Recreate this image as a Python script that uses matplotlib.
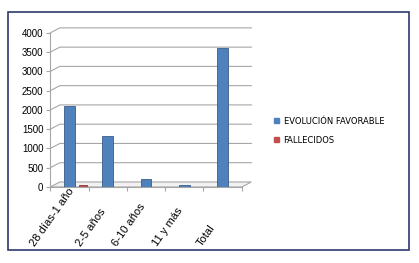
import matplotlib.pyplot as plt
import matplotlib.transforms as mtransforms
import numpy as np
from matplotlib.patches import Patch, Polygon, Rectangle

categorias = ["28 días-1 año", "2-5 años", "6-10 años", "11 y más", "Total"]
favorable = [2100, 1320, 200, 40, 3620]
fallecidos = [40, 0, 0, 0, 0]
yticks = [0, 500, 1000, 1500, 2000, 2500, 3000, 3500, 4000]

azul = "#4f81bd"
rojo = "#c0504d"

fig = plt.figure(figsize=(4.19, 2.63), dpi=100)
ax = fig.add_axes([0.12, 0.289, 0.457, 0.586])

x = np.arange(len(categorias))
xmin, xmax = -0.5, 4.5
dx, dy = 0.25, 130

# rejilla con efecto 3D
for t in yticks[1:]:
    ax.plot([xmin, xmin + dx, xmax + dx], [t, t + dy, t + dy],
            color="#a6a6a6", lw=0.8, clip_on=False, zorder=1)
# suelo
ax.add_patch(Polygon([[xmin, 0], [xmin + dx, dy], [xmax + dx, dy], [xmax, 0]],
                     closed=True, facecolor="#f2f2f2", edgecolor="#a6a6a6",
                     lw=0.8, clip_on=False, zorder=1))

ax.bar(x, favorable, width=0.28, color=azul, edgecolor="#385d8a", lw=0.6, zorder=3)
ax.bar(x + 0.35, fallecidos, width=0.2, color=rojo, edgecolor="#8c3836", lw=0.6, zorder=3)

ax.set_xlim(xmin, xmax)
ax.set_ylim(0, 4000)
ax.set_yticks(yticks)
ax.set_yticklabels([str(t) for t in yticks], fontfamily="Liberation Sans")
ax.tick_params(axis="y", labelsize=7, length=3, color="#a6a6a6", pad=2)
ax.set_xticks(np.arange(xmin, xmax + 0.01, 1))
ax.set_xticklabels([])
ax.tick_params(axis="x", length=3, color="#a6a6a6")
for s in ["top", "right"]:
    ax.spines[s].set_visible(False)
for s in ["left", "bottom"]:
    ax.spines[s].set_color("#a6a6a6")
ax.patch.set_alpha(0)

# etiquetas de categoría (estilo Excel, alineadas por abajo)
trans = mtransforms.blended_transform_factory(ax.transData, fig.transFigure)
for xi, lab in zip(x, categorias):
    ax.text(xi - 0.44, 0.058, lab, transform=trans, rotation=55,
            ha="center", va="bottom", fontsize=8, fontfamily="Liberation Sans")

handles = [Patch(color=azul, label="EVOLUCIÓN FAVORABLE"),
           Patch(color=rojo, label="FALLECIDOS")]
fig.legend(handles=handles, loc="upper left", bbox_to_anchor=(0.635, 0.585),
           frameon=False, fontsize=6, handlelength=0.6, handleheight=0.6,
           handletextpad=0.6, labelspacing=1.2)

fig.patches.append(Rectangle((0.02, 0.05), 0.955, 0.905, transform=fig.transFigure,
                             fill=False, edgecolor="#2e3a6e", lw=1.2))

fig.savefig("out.png", dpi=100)
